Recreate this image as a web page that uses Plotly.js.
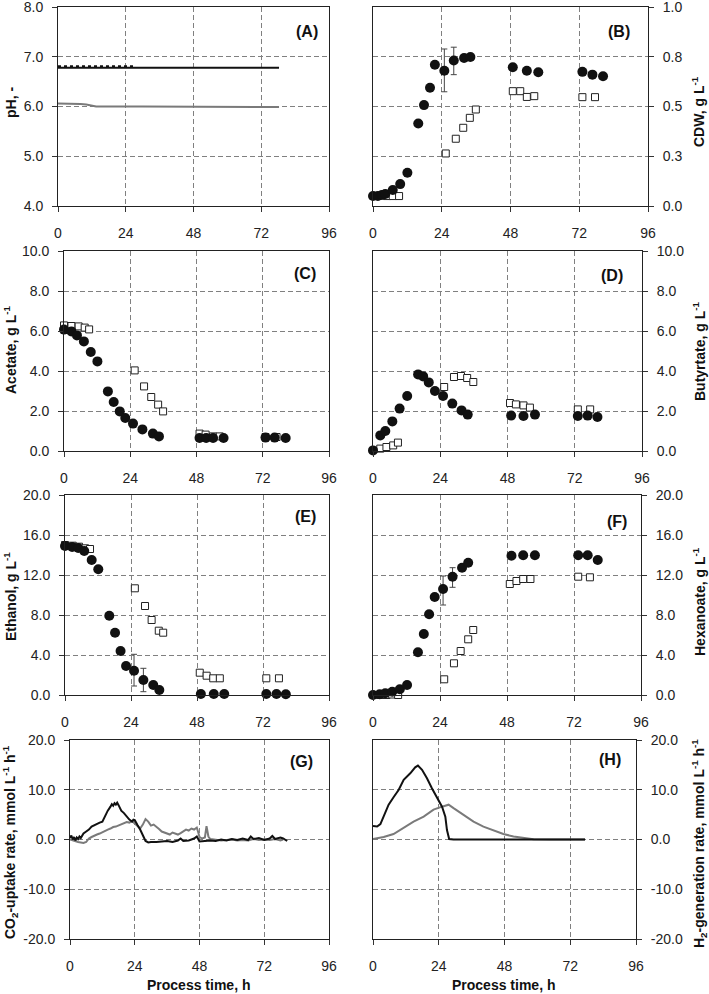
<!DOCTYPE html>
<html>
<head>
<meta charset="utf-8">
<script src="https://cdn.plot.ly/plotly-3.0.1.min.js"></script>
<style>html,body{margin:0;padding:0;background:#fff;}#chart{width:709px;height:994px;}</style>
</head>
<body>
<div id="chart"></div>
<script>
// ---------------- DATA ----------------
var xTickVals = [0, 24, 48, 72, 96];

// (A) pH
var phBlackT = [0, 27, 78.3];
var phBlackV = [6.78, 6.78, 6.78];
var phBlackDotT = [0, 27];
var phBlackDotV = [6.805, 6.805];
var phGrayT = [0, 4, 8, 10, 12, 13.5, 30, 50, 55, 78.3];
var phGrayV = [6.06, 6.06, 6.05, 6.04, 6.02, 6.00, 6.00, 6.00, 5.99, 5.99];

// (B) CDW
var cdwCircT = [0, 1.7, 3.1, 4.3, 6.9, 9.5, 12, 15.8, 17.8, 19.9, 21.6, 24.9, 28.2, 31.8, 34, 48.8, 53.7, 57.7, 73.1, 76.6, 80.3];
var cdwCircV = [0.05, 0.05, 0.055, 0.06, 0.08, 0.11, 0.167, 0.415, 0.507, 0.594, 0.71, 0.68, 0.731, 0.744, 0.749, 0.697, 0.68, 0.672, 0.674, 0.66, 0.652];
var cdwErrPlus  = [null, null, null, null, null, null, null, null, null, null, null, 0.109, 0.067, null, null, null, null, null, null, null, null];
var cdwErrMinus = [null, null, null, null, null, null, null, null, null, null, null, 0.106, 0.071, null, null, null, null, null, null, null, null];
var cdwSqT = [4.9, 6.9, 9.1, 25.4, 28.9, 31.5, 33.8, 35.9, 48.8, 51.4, 53.7, 56.3, 73.1, 77.5];
var cdwSqV = [0.05, 0.05, 0.05, 0.264, 0.338, 0.393, 0.443, 0.485, 0.577, 0.577, 0.548, 0.552, 0.547, 0.547];
var cdwTickVals = [0, 0.25, 0.5, 0.75, 1.0];
var cdwTickText = ['0.0', '0.3', '0.5', '0.8', '1.0'];

// (C) Acetate
var acCircT = [0, 2.7, 4.7, 7.2, 9.7, 12.1, 15.9, 18, 20.2, 22.2, 25, 28.4, 32.2, 34.4, 49.1, 51.5, 54, 57.8, 73, 76.3, 80.3];
var acCircV = [6.07, 5.98, 5.78, 5.48, 4.95, 4.48, 2.98, 2.45, 1.98, 1.65, 1.37, 1.08, 0.87, 0.73, 0.65, 0.65, 0.65, 0.65, 0.67, 0.67, 0.65];
var acSqT = [0, 2.7, 5.3, 7.5, 9.1, 25.6, 29, 31.6, 34.1, 35.9, 49.1, 51.3, 54, 56.4, 73, 77];
var acSqV = [6.28, 6.25, 6.23, 6.17, 6.08, 4.03, 3.23, 2.7, 2.32, 1.98, 0.87, 0.82, 0.73, 0.73, 0.7, 0.7];

// (D) Butyrate
var buCircT = [0, 2.6, 4.4, 6.9, 9.5, 12.2, 16.1, 17.9, 19.9, 22.1, 25, 28.3, 31.6, 33.8, 49.3, 53.7, 57.8, 73.1, 76.6, 80.1];
var buCircV = [0.03, 0.78, 1.0, 1.48, 2.12, 2.75, 3.83, 3.73, 3.43, 3.0, 2.75, 2.37, 2.03, 1.82, 1.77, 1.75, 1.82, 1.75, 1.77, 1.7];
var buSqT = [2.6, 4.8, 7.2, 8.9, 25.4, 28.9, 31.4, 33.6, 35.8, 48.9, 51, 53.7, 56, 73.1, 77.5];
var buSqV = [0.12, 0.2, 0.28, 0.42, 3.2, 3.7, 3.75, 3.65, 3.45, 2.4, 2.33, 2.28, 2.17, 2.08, 2.08];

// (E) Ethanol
var etCircT = [0, 2.6, 4.8, 7, 9.7, 12.1, 16.1, 18.2, 20.2, 22.2, 25.1, 28.5, 32.1, 34.3, 49.4, 54.1, 57.9, 73.2, 76.9, 80.3];
var etCircV = [14.9, 14.8, 14.7, 14.4, 13.5, 12.57, 7.93, 6.23, 4.4, 2.9, 2.43, 1.5, 1.0, 0.5, 0.1, 0.1, 0.1, 0.1, 0.1, 0.07];
var etErrPlus  = [null, null, null, null, null, null, null, null, null, null, 1.64, 1.17, null, null, null, null, null, null, null, null];
var etErrMinus = [null, null, null, null, null, null, null, null, null, null, 1.53, 1.17, null, null, null, null, null, null, null, null];
var etSqT = [0, 2.8, 5.1, 7.3, 9.1, 25.4, 29.1, 31.5, 34.1, 35.7, 49, 51.5, 53.9, 56.3, 73.2, 77.8];
var etSqV = [15.0, 14.93, 14.83, 14.67, 14.6, 10.67, 8.9, 7.5, 6.43, 6.23, 2.23, 1.93, 1.67, 1.67, 1.67, 1.67];

// (F) Hexanoate
var hxCircT = [0, 2.4, 4.4, 6.9, 9.6, 12.2, 16.1, 18.2, 20.1, 22.1, 25.1, 28.5, 31.9, 34.1, 49.6, 53.8, 58, 73.5, 76.9, 80.5];
var hxCircV = [0.0, 0.07, 0.17, 0.33, 0.57, 1.0, 4.27, 6.1, 8.07, 9.8, 10.6, 11.83, 12.73, 13.23, 13.93, 13.97, 13.97, 13.97, 13.97, 13.5];
var hxErrPlus  = [null, null, null, null, null, null, null, null, null, null, 1.3, 0.9, null, null, null, null, null, null, null, null];
var hxErrMinus = [null, null, null, null, null, null, null, null, null, null, 1.6, 1.06, null, null, null, null, null, null, null, null];
var hxSqT = [2.4, 4.8, 6.9, 9.0, 25.5, 29, 31.4, 34.1, 35.9, 49, 51.4, 53.8, 56.4, 73.5, 77.7];
var hxSqV = [0.0, 0.0, 0.05, 0.0, 1.57, 3.17, 4.4, 5.57, 6.5, 11.1, 11.4, 11.6, 11.6, 11.83, 11.77];

// (G) CO2-uptake rate
var co2BlackT = [0, 0.5, 1, 1.5, 2, 2.5, 3, 3.5, 4, 5, 6, 7, 8, 9, 10, 11, 12, 13, 14, 15, 15.5, 16, 16.5, 17, 17.5, 18, 18.5, 19, 20, 21, 22, 23, 23.5, 24, 24.5, 25, 26, 27, 28, 29, 30, 32, 34, 36, 38, 40, 41, 42, 44, 45, 46, 47, 47.5, 48, 50, 52, 54, 56, 58, 60, 62, 64, 66, 67, 68, 70, 72, 74, 75, 76, 78, 79, 80.5];
var co2BlackV = [0.3, 0.8, 0.0, 0.5, -0.2, 0.4, 0.1, 0.6, 0.3, 1.2, 1.6, 2.0, 2.6, 2.9, 3.1, 3.4, 3.6, 4.8, 5.8, 6.6, 7.1, 6.8, 7.3, 7.0, 7.4, 6.9, 6.4, 5.8, 5.3, 4.6, 4.0, 3.6, 4.0, 3.9, 3.5, 2.9, 2.0, 0.8, -0.3, -0.6, -0.5, -0.5, -0.4, -0.3, -0.5, -0.2, 0.2, -0.3, -0.2, 0.0, 0.2, 0.6, 0.1, -0.4, -0.3, -0.2, -0.3, 0.0, -0.2, 0.1, -0.1, 0.2, -0.1, 0.6, 0.1, 0.3, -0.1, 0.2, 0.7, 0.1, 0.4, 0.2, -0.3];
var co2GrayT = [0, 1, 2, 3, 4, 5, 6, 7, 8, 9, 10, 11, 12, 13, 14, 15, 16, 17, 18, 19, 20, 21, 22, 23, 24, 25, 26, 27, 28, 29, 30, 31, 32, 33, 34, 35, 36, 37, 38, 39, 40, 41, 42, 43, 44, 45, 46, 47, 47.5, 48, 49, 50, 50.6, 51.3, 52, 54, 56, 58, 60, 62, 64, 66, 68, 70, 72, 74, 76, 78, 79];
var co2GrayV = [0.0, -0.2, -0.4, -0.5, -0.6, -0.7, -0.5, 0.2, 0.5, 0.8, 1.0, 1.2, 1.5, 1.8, 2.0, 2.2, 2.5, 2.6, 2.8, 3.0, 3.3, 3.5, 3.4, 3.7, 3.2, 2.6, 2.2, 3.0, 4.1, 3.6, 2.8, 3.0, 2.6, 2.1, 1.6, 1.4, 1.3, 1.0, 1.4, 1.2, 1.0, 1.3, 1.6, 2.0, 1.8, 2.2, 2.0, 2.4, 1.5, 0.5, 0.2, 0.4, 2.7, 0.6, 0.1, 0.0, -0.2, -0.1, 0.0, -0.2, -0.1, -0.2, 0.1, -0.1, 0.0, -0.1, 0.1, -0.2, 0.0];

// (H) H2-generation rate
var h2BlackT = [0, 1.5, 2.7, 3.9, 5.7, 7.5, 9.4, 11.2, 13.6, 15.4, 16.4, 17.9, 19.7, 21.5, 23.6, 25.2, 26.4, 27, 27.8, 29.4, 40, 50, 60, 70, 77.4];
var h2BlackV = [2.7, 2.6, 3.1, 4.6, 7.0, 8.5, 10.0, 12.0, 13.3, 14.5, 14.85, 14.0, 12.3, 10.3, 8.1, 6.6, 4.6, 1.9, 0.1, 0.0, 0.0, 0.0, 0.0, 0.0, 0.0];
var h2GrayT = [0, 3.9, 7.5, 11.2, 14.8, 18.5, 22.1, 25.2, 27.6, 29.4, 33.1, 36.7, 40.3, 44, 47.6, 51.3, 54.9, 58.6, 64.6, 77.4];
var h2GrayV = [0.1, 0.5, 1.1, 2.3, 3.6, 4.6, 6.0, 6.6, 7.0, 6.3, 5.0, 3.6, 2.6, 1.8, 1.1, 0.6, 0.3, 0.07, 0.0, 0.0];
var rateTickVals = [-20, -10, 0, 10, 20];
var rateTickText = ['-20.0', '-10.0', '0.0', '10.0', '20.0'];

// ---------------- LAYOUT HELPERS ----------------
var W = 709, H = 994;
function px(x) { return x / W; }
function py(y) { return 1 - y / H; }
var FONT = 'Liberation Sans, Arial, Helvetica, sans-serif';
var BLACK = '#111111', GRAY = '#7a7a7a';

// panel boxes in pixels: [left, right, top, bottom]
var boxes = {
  1: [58, 329, 7, 206],
  2: [373, 648, 7, 206],
  3: [64, 329, 251, 451],
  4: [373, 642, 251, 451],
  5: [65, 329, 495, 695],
  6: [373, 641, 495, 695],
  7: [70, 329, 740, 939],
  8: [373, 636, 740, 939]
};

function xAxis(i) {
  var b = boxes[i];
  return {
    domain: [px(b[0]), px(b[1])], anchor: 'y' + i, range: [0, 96],
    tickvals: xTickVals, ticks: 'outside', ticklen: 5, tickcolor: '#333', tickwidth: 1,
    showline: true, linecolor: '#222', linewidth: 1, mirror: true,
    showgrid: true, gridcolor: '#808080', gridwidth: 1, griddash: '5px,3px',
    zeroline: false, ticklabelstandoff: 9, ticklabeloverflow: 'allow',
    tickfont: {family: FONT, size: 14, color: '#222'}, fixedrange: true
  };
}
function yAxis(i, side, range, opts) {
  var b = boxes[i];
  var a = {
    domain: [py(b[3]), py(b[2])], anchor: 'x' + i, range: range, side: side,
    ticks: 'outside', ticklen: 5, tickcolor: '#333', tickwidth: 1,
    showline: true, linecolor: '#222', linewidth: 1, mirror: true,
    showgrid: true, gridcolor: '#808080', gridwidth: 1, griddash: '5px,3px',
    zeroline: false, ticklabelstandoff: 6, ticklabeloverflow: 'allow',
    tickfont: {family: FONT, size: 14, color: '#222'}, fixedrange: true
  };
  for (var k in opts) a[k] = opts[k];
  return a;
}

function circles(i, t, v, ep, em) {
  var tr = {x: t, y: v, xaxis: 'x' + i, yaxis: 'y' + i, type: 'scatter', mode: 'markers', cliponaxis: false,
    marker: {symbol: 'circle', size: 10, color: BLACK, line: {width: 0}}};
  if (ep) tr.error_y = {type: 'data', symmetric: false, array: ep, arrayminus: em, color: '#444', thickness: 1, width: 3};
  return tr;
}
function squares(i, t, v) {
  return {x: t, y: v, xaxis: 'x' + i, yaxis: 'y' + i, type: 'scatter', mode: 'markers', cliponaxis: false,
    marker: {symbol: 'square', size: 7, color: '#ffffff', line: {width: 1, color: '#222'}}};
}
function line(i, t, v, color, width, dash) {
  return {x: t, y: v, xaxis: 'x' + i, yaxis: 'y' + i, type: 'scatter', mode: 'lines', cliponaxis: false,
    line: {color: color, width: width, dash: dash || 'solid'}};
}

var data = [
  line(1, phGrayT, phGrayV, GRAY, 2),
  line(1, phBlackT, phBlackV, BLACK, 2),
  line(1, phBlackDotT, phBlackDotV, BLACK, 2.5, 'dot'),
  squares(2, cdwSqT, cdwSqV),
  circles(2, cdwCircT, cdwCircV, cdwErrPlus, cdwErrMinus),
  squares(3, acSqT, acSqV),
  circles(3, acCircT, acCircV),
  squares(4, buSqT, buSqV),
  circles(4, buCircT, buCircV),
  squares(5, etSqT, etSqV),
  circles(5, etCircT, etCircV, etErrPlus, etErrMinus),
  squares(6, hxSqT, hxSqV),
  circles(6, hxCircT, hxCircV, hxErrPlus, hxErrMinus),
  line(7, co2GrayT, co2GrayV, GRAY, 2),
  line(7, co2BlackT, co2BlackV, BLACK, 2),
  line(8, h2GrayT, h2GrayV, GRAY, 2),
  line(8, h2BlackT, h2BlackV, BLACK, 2)
];

var layout = {
  width: W, height: H, margin: {l: 0, r: 0, t: 0, b: 0}, showlegend: false,
  paper_bgcolor: '#ffffff', plot_bgcolor: '#ffffff',
  font: {family: FONT, size: 14, color: '#222'},
  xaxis: xAxis(1), xaxis2: xAxis(2), xaxis3: xAxis(3), xaxis4: xAxis(4),
  xaxis5: xAxis(5), xaxis6: xAxis(6), xaxis7: xAxis(7), xaxis8: xAxis(8),
  yaxis: yAxis(1, 'left', [4, 8], {dtick: 1, tick0: 4, tickformat: '.1f'}),
  yaxis2: yAxis(2, 'right', [0, 1], {tickvals: cdwTickVals, ticktext: cdwTickText}),
  yaxis3: yAxis(3, 'left', [0, 10], {dtick: 2, tick0: 0, tickformat: '.1f'}),
  yaxis4: yAxis(4, 'right', [0, 10], {dtick: 2, tick0: 0, tickformat: '.1f'}),
  yaxis5: yAxis(5, 'left', [0, 20], {dtick: 4, tick0: 0, tickformat: '.1f'}),
  yaxis6: yAxis(6, 'right', [0, 20], {dtick: 4, tick0: 0, tickformat: '.1f'}),
  yaxis7: yAxis(7, 'left', [-20, 20], {tickvals: rateTickVals, ticktext: rateTickText}),
  yaxis8: yAxis(8, 'right', [-20, 20], {tickvals: rateTickVals, ticktext: rateTickText}),
  annotations: []
};

function label(text, xr, yc) {
  layout.annotations.push({text: '<b>' + text + '</b>', x: px(xr), y: py(yc), xref: 'paper', yref: 'paper',
    xanchor: 'right', yanchor: 'middle', showarrow: false, font: {family: FONT, size: 16, color: '#111'}});
}
function vtitle(text, xc, yc) {
  layout.annotations.push({text: '<b>' + text + '</b>', x: px(xc), y: py(yc), xref: 'paper', yref: 'paper',
    xanchor: 'center', yanchor: 'middle', textangle: -90, showarrow: false, font: {family: FONT, size: 14, color: '#111'}});
}
function htitle(text, xc, yc) {
  layout.annotations.push({text: '<b>' + text + '</b>', x: px(xc), y: py(yc), xref: 'paper', yref: 'paper',
    xanchor: 'center', yanchor: 'middle', showarrow: false, font: {family: FONT, size: 14, color: '#111'}});
}

label('(A)', 320, 32); label('(B)', 632, 32);
label('(C)', 318, 273); label('(D)', 625, 275);
label('(E)', 318, 516); label('(F)', 629, 521);
label('(G)', 315, 761); label('(H)', 623, 759);

vtitle('pH, -', 11, 103);
vtitle('CDW, g L<sup>-1</sup>', 698, 112);
vtitle('Acetate, g L<sup>-1</sup>', 10, 350);
vtitle('Butyrtate, g L<sup>-1</sup>', 699, 352);
vtitle('Ethanol, g L<sup>-1</sup>', 10, 597);
vtitle('Hexanoate, g L<sup>-1</sup>', 699, 602);
vtitle('CO<sub>2</sub>-uptake rate, mmol L<sup>-1</sup> h<sup>-1</sup>', 10, 842);
vtitle('H<sub>2</sub>-generation rate, mmol L<sup>-1</sup> h<sup>-1</sup>', 699, 844);
htitle('Process time, h', 199, 985);
htitle('Process time, h', 504, 985);

Plotly.newPlot('chart', data, layout, {staticPlot: true, displayModeBar: false});
</script>
</body>
</html>
